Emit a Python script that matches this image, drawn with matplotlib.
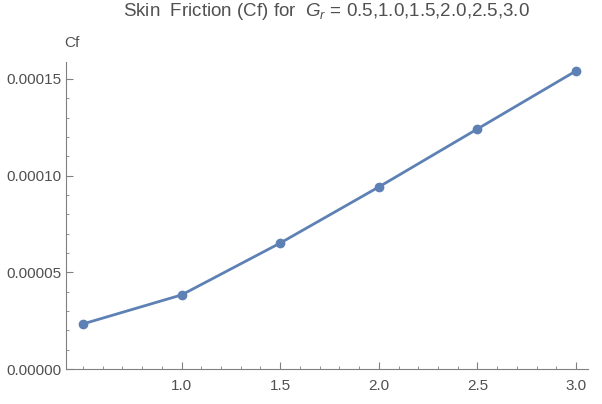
import matplotlib
matplotlib.use("Agg")
import matplotlib.pyplot as plt
from matplotlib.ticker import MultipleLocator, FormatStrFormatter

plt.rcParams['font.family'] = ['Liberation Sans', 'DejaVu Sans']
plt.rcParams['mathtext.fontset'] = 'custom'
plt.rcParams['mathtext.it'] = 'Liberation Sans:italic'

# data
gr = [0.5, 1.0, 1.5, 2.0, 2.5, 3.0]
cf = [2.33e-5, 3.83e-5, 6.51e-5, 9.41e-5, 1.241e-4, 1.541e-4]

line_col = '#5E81B5'
axis_col = '#808080'
text_col = '#505050'

fig = plt.figure(figsize=(6.02, 4.04), dpi=100)
ax = fig.add_axes([0.1096, 0.0866, 0.867, 0.76])

ax.plot(gr, cf, color=line_col, lw=2, marker='o', ms=6)

ax.set_xlim(0.414, 3.06)
ax.set_ylim(0, 0.0001587)

for s in ['top', 'right']:
    ax.spines[s].set_visible(False)
for s in ['left', 'bottom']:
    ax.spines[s].set_color(axis_col)
    ax.spines[s].set_linewidth(0.8)

ax.set_xticks([1.0, 1.5, 2.0, 2.5, 3.0])
ax.xaxis.set_minor_locator(MultipleLocator(0.1))
ax.xaxis.set_major_formatter(FormatStrFormatter('%.1f'))
ax.set_yticks([0, 5e-5, 1e-4, 1.5e-4])
ax.yaxis.set_minor_locator(MultipleLocator(1e-5))
ax.yaxis.set_major_formatter(FormatStrFormatter('%.5f'))

ax.tick_params(which='both', direction='in', color=axis_col, labelcolor=text_col,
               labelsize=11)
ax.tick_params(axis='x', which='major', pad=7)
ax.tick_params(which='major', length=5, width=0.8)
ax.tick_params(which='minor', length=2.5, width=0.6)

ax.set_title(r'Skin  Friction (Cf) for  $G_r$ = 0.5,1.0,1.5,2.0,2.5,3.0',
             color=text_col, fontsize=13.5, pad=33)
ax.text(-0.003, 1.04, 'Cf', transform=ax.transAxes, ha='left', va='bottom',
        color=text_col, fontsize=11)

fig.savefig('out.png', dpi=100)
